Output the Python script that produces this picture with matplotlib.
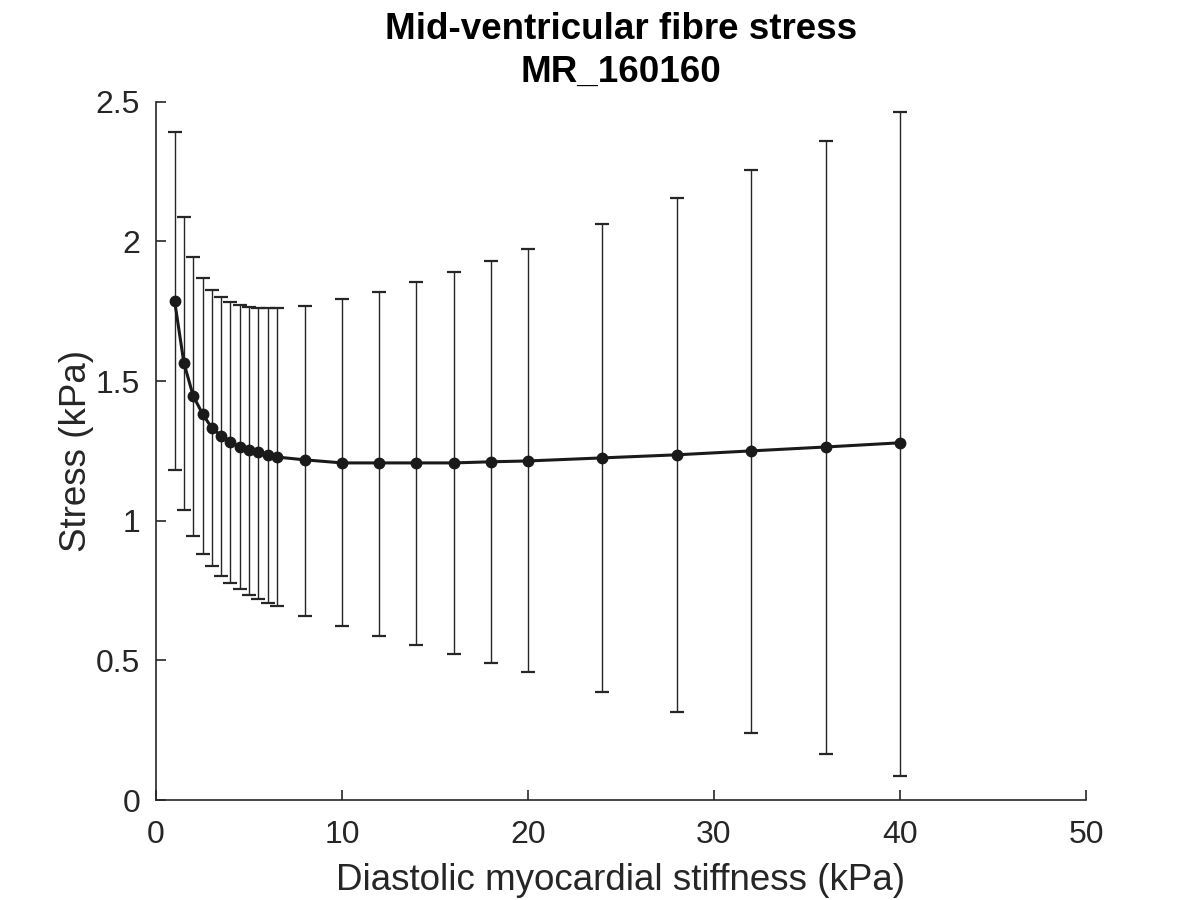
import matplotlib
matplotlib.use("Agg")
import matplotlib.pyplot as plt

plt.rcParams['font.family'] = ['Liberation Sans', 'DejaVu Sans']

stiffness = [1, 1.5, 2, 2.5, 3, 3.5, 4, 4.5, 5, 5.5, 6, 6.5, 8, 10, 12, 14, 16, 18, 20, 24, 28, 32, 36, 40]
stress_mean = [1.787, 1.565, 1.447, 1.383, 1.332, 1.304, 1.282, 1.264, 1.254, 1.246, 1.236, 1.228,
               1.218, 1.207, 1.207, 1.207, 1.207, 1.211, 1.214, 1.225, 1.236, 1.250, 1.264, 1.279]
stress_upper = [2.393, 2.088, 1.945, 1.870, 1.827, 1.802, 1.784, 1.773, 1.766, 1.762, 1.762, 1.762,
                1.769, 1.792, 1.820, 1.853, 1.890, 1.931, 1.972, 2.062, 2.157, 2.256, 2.359, 2.464]
stress_lower = [1.181, 1.039, 0.946, 0.882, 0.837, 0.802, 0.776, 0.755, 0.735, 0.721, 0.706, 0.694,
                0.660, 0.623, 0.589, 0.556, 0.524, 0.491, 0.457, 0.388, 0.316, 0.241, 0.165, 0.087]

x_ticks = [0, 10, 20, 30, 40, 50]
y_ticks = [0, 0.5, 1, 1.5, 2, 2.5]
y_tick_labels = ['0', '0.5', '1', '1.5', '2', '2.5']

fig = plt.figure(figsize=(12, 9), dpi=100)
ax = fig.add_axes([0.13, 0.111, 0.775, 0.776])

err_low = [m - l for m, l in zip(stress_mean, stress_lower)]
err_high = [u - m for m, u in zip(stress_mean, stress_upper)]

ax.errorbar(stiffness, stress_mean, yerr=[err_low, err_high], fmt='none',
            ecolor='#262626', elinewidth=1.0, capsize=5, capthick=1.6, zorder=2)
ax.plot(stiffness, stress_mean, '-o', color='#1a1a1a', linewidth=2.2,
        markersize=7.5, zorder=3)

ax.set_xlim(0, 50)
ax.set_ylim(0, 2.5)
ax.set_xticks(x_ticks)
ax.set_yticks(y_ticks)
ax.set_yticklabels(y_tick_labels)

for s in ['top', 'right']:
    ax.spines[s].set_visible(False)
for s in ['left', 'bottom']:
    ax.spines[s].set_color('#262626')
    ax.spines[s].set_linewidth(1.2)

ax.tick_params(direction='in', length=7, width=1.2, colors='#262626', labelsize=23)
ax.tick_params(axis='x', pad=14)
ax.tick_params(axis='y', pad=11.5)

ax.set_xlabel('Diastolic myocardial stiffness (kPa)', fontsize=26.5, color='#262626', labelpad=10)
ax.set_ylabel('Stress (kPa)', fontsize=26.5, color='#262626', labelpad=1)
ax.set_title('Mid-ventricular fibre stress\nMR_160160', fontsize=26.5, fontweight='bold',
             color='black', pad=14.5, linespacing=1.29)

fig.savefig('out.png', dpi=100)
